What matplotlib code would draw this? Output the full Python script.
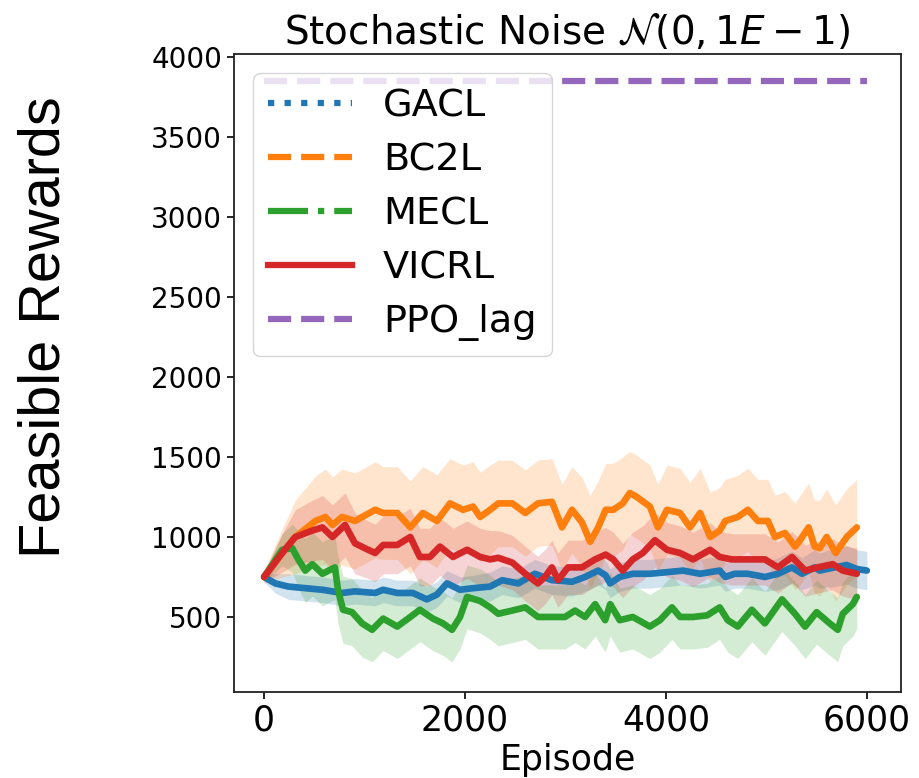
import numpy as np
import matplotlib
matplotlib.use("Agg")
import matplotlib.pyplot as plt
from matplotlib.lines import Line2D

# ---------------- data ----------------
ep_gacl = [0, 110, 240, 410, 580, 775, 905, 1105, 1185, 1325,
           1480, 1620, 1720, 1820, 1950, 2080, 2250, 2370, 2530, 2695,
           2865, 3065, 3195, 3325, 3400, 3445, 3540, 3670, 3840, 4010,
           4170, 4340, 4535, 4590, 4685, 4815, 4985, 5115, 5255, 5355,
           5480, 5530, 5680, 5800, 5900, 6000]
val_gacl = [750, 710, 690, 680, 670, 650, 660, 650, 670, 650,
            650, 610, 640, 710, 670, 680, 690, 730, 710, 770,
            730, 720, 750, 790, 760, 710, 750, 770, 770, 780,
            790, 770, 790, 750, 770, 770, 750, 770, 810, 770,
            810, 790, 810, 825, 800, 790]
std_gacl = [30, 60, 80, 80, 80, 80, 80, 80, 80, 80,
            80, 80, 80, 80, 80, 80, 90, 90, 90, 90,
            90, 90, 90, 90, 90, 90, 90, 90, 90, 90,
            90, 90, 90, 90, 90, 90, 90, 100, 100, 100,
            110, 110, 120, 120, 120, 120]

ep_bc2l = [0, 180, 310, 510, 610, 680, 775, 905, 1105, 1185,
           1325, 1455, 1580, 1720, 1850, 1980, 2080, 2150, 2250, 2330,
           2470, 2600, 2725, 2865, 2965, 3065, 3165, 3245, 3325, 3400,
           3475, 3570, 3640, 3710, 3840, 3920, 4010, 4140, 4240, 4340,
           4440, 4535, 4590, 4715, 4815, 4915, 5015, 5085, 5185, 5285,
           5335, 5420, 5480, 5530, 5600, 5690, 5800, 5900]
val_bc2l = [750, 900, 1000, 1100, 1125, 1075, 1125, 1100, 1170, 1150,
            1150, 1060, 1150, 1100, 1210, 1170, 1190, 1125, 1170, 1210,
            1210, 1150, 1210, 1220, 1060, 1170, 1090, 970, 1060, 1170,
            1170, 1210, 1275, 1250, 1190, 1060, 1170, 1150, 1060, 1150,
            1000, 1040, 1100, 1125, 1170, 1100, 1100, 1000, 1025, 940,
            980, 1060, 940, 930, 1000, 900, 1000, 1060]
std_bc2l = [40, 150, 230, 280, 300, 300, 300, 300, 300, 290,
            290, 290, 290, 290, 280, 280, 280, 280, 280, 270,
            270, 270, 270, 270, 270, 270, 280, 290, 290, 290,
            290, 290, 260, 260, 260, 270, 280, 280, 280, 280,
            280, 270, 260, 260, 260, 260, 260, 260, 260, 270,
            280, 280, 290, 300, 300, 300, 300, 300]

ep_mecl = [0, 180, 280, 340, 410, 480, 580, 705, 735, 785,
           875, 975, 1075, 1185, 1325, 1455, 1550, 1680, 1780, 1870,
           1950, 2020, 2150, 2250, 2330, 2470, 2600, 2725, 2865, 2995,
           3095, 3195, 3295, 3395, 3445, 3540, 3670, 3840, 3940, 4060,
           4140, 4270, 4410, 4535, 4615, 4715, 4855, 4985, 5155, 5285,
           5385, 5500, 5630, 5710, 5760, 5860, 5900]
val_mecl = [750, 920, 930, 860, 790, 830, 770, 810, 670, 545,
            530, 460, 420, 490, 440, 500, 545, 490, 460, 420,
            500, 625, 600, 560, 520, 540, 560, 500, 500, 500,
            540, 500, 580, 480, 580, 480, 500, 440, 480, 560,
            500, 500, 510, 560, 480, 440, 545, 460, 610, 520,
            440, 530, 460, 420, 520, 580, 625]
std_mecl = [30, 100, 150, 180, 200, 200, 200, 200, 210, 210,
            210, 210, 200, 200, 200, 200, 200, 200, 200, 200,
            200, 200, 200, 200, 200, 200, 200, 200, 200, 200,
            200, 200, 200, 200, 200, 200, 200, 200, 200, 200,
            200, 200, 200, 200, 200, 200, 200, 200, 200, 200,
            200, 200, 200, 200, 200, 200, 200]

ep_vicrl = [0, 180, 310, 480, 580, 680, 805, 905, 1035, 1105,
            1185, 1325, 1455, 1550, 1650, 1750, 1880, 2020, 2150, 2250,
            2330, 2470, 2600, 2725, 2795, 2865, 2925, 3025, 3165, 3295,
            3400, 3475, 3570, 3670, 3770, 3890, 4010, 4140, 4270, 4440,
            4535, 4655, 4815, 4985, 5115, 5255, 5385, 5510, 5660, 5760,
            5900]
val_vicrl = [750, 900, 1000, 1040, 1060, 1000, 1075, 960, 920, 900,
             950, 950, 1000, 875, 875, 940, 875, 920, 875, 860,
             870, 840, 770, 710, 750, 810, 730, 810, 810, 860,
             890, 860, 790, 860, 900, 980, 920, 900, 860, 920,
             875, 860, 860, 860, 810, 875, 790, 810, 830, 790,
             770]
std_vicrl = [30, 120, 170, 190, 200, 200, 200, 190, 180, 180,
             180, 180, 180, 180, 180, 180, 180, 180, 180, 180,
             170, 170, 170, 170, 170, 170, 170, 170, 170, 170,
             170, 170, 170, 170, 170, 170, 170, 170, 170, 170,
             160, 160, 160, 160, 160, 160, 160, 160, 160, 160,
             160]

ep_ppo = [0, 6000]
val_ppo = [3850, 3850]

labels = ["GACL", "BC2L", "MECL", "VICRL", "PPO_lag"]
colors = ["#1f77b4", "#ff7f0e", "#2ca02c", "#d62728", "#9467bd"]
styles = [":", "--", "-.", "-", "--"]

x_ticks = [0, 2000, 4000, 6000]
y_ticks = [500, 1000, 1500, 2000, 2500, 3000, 3500, 4000]

# ---------------- figure ----------------
fig = plt.figure(figsize=(9.19, 7.78), dpi=100)
ax = fig.add_axes([234 / 919, 86 / 778, 667 / 919, 638 / 778])

series = [(ep_gacl, val_gacl, std_gacl),
          (ep_bc2l, val_bc2l, std_bc2l),
          (ep_mecl, val_mecl, std_mecl),
          (ep_vicrl, val_vicrl, std_vicrl)]

LW = 4.8
for (ep, v, s), c in zip(series, colors[:4]):
    ep = np.asarray(ep, float)
    v = np.asarray(v, float)
    s = np.asarray(s, float)
    ax.fill_between(ep, v - s, v + s, color=c, alpha=0.2, linewidth=0)
for (ep, v, s), c in zip(series, colors[:4]):
    ax.plot(ep, v, color=c, linewidth=LW, linestyle="-",
            solid_capstyle="round", solid_joinstyle="round")

ax.plot(ep_ppo, val_ppo, color=colors[4], linewidth=4.5, linestyle="--")

ax.set_xlim(-300, 6340)
ax.set_ylim(31, 4019)
ax.set_xticks(x_ticks)
ax.set_yticks(y_ticks)
ax.tick_params(axis="x", labelsize=25, length=5, width=1.2)
ax.tick_params(axis="y", labelsize=20, length=5, width=1.2)
for sp in ax.spines.values():
    sp.set_linewidth(1.3)
    sp.set_color("#222222")

ax.set_title(r"Stochastic Noise $\mathcal{N}(0, 1E-1)$", fontsize=28, pad=7)
ax.set_xlabel("Episode", fontsize=25, labelpad=4)
fig.text(45 / 919, 0.58, "Feasible Rewards", rotation=90, ha="center",
         va="center", fontsize=41.5, family=["Liberation Sans", "DejaVu Sans"])

handles = [Line2D([], [], color=c, linestyle=ls, linewidth=4.5)
           for c, ls in zip(colors, styles)]
ax.legend(handles, labels, loc="upper left", fontsize=27.5,
          handlelength=2.2, handletextpad=0.8, labelspacing=0.47,
          borderaxespad=0.5, borderpad=0.4)

fig.savefig("out.png", dpi=100)
